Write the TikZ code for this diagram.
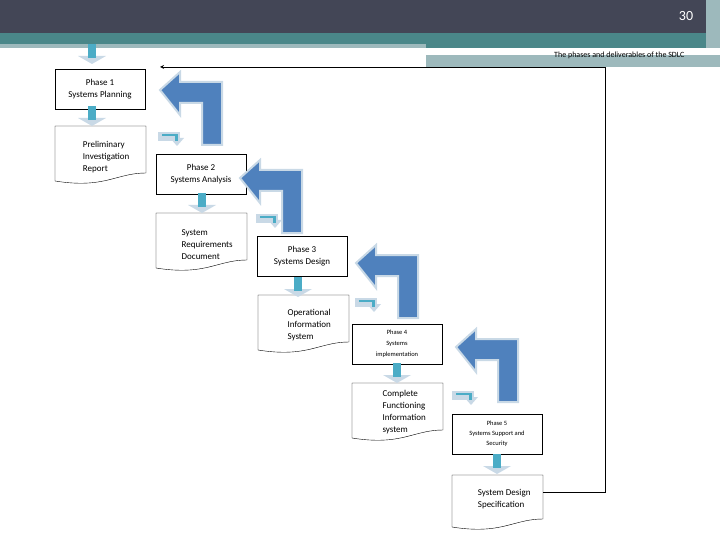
\documentclass[tikz,border=0pt]{standalone}
\usepackage{fontspec}
\setmainfont{Carlito}
\usetikzlibrary{positioning,calc}
\definecolor{hdark}{HTML}{434656}
\definecolor{hteal}{HTML}{4A8789}
\definecolor{hpale}{HTML}{9DB9BC}
\definecolor{bigblue}{HTML}{4F81BD}
\definecolor{smallteal}{HTML}{4BACC6}
\definecolor{glow}{HTML}{C9D9E6}
\tikzstyle{phase} = [draw, minimum width=90pt, minimum height=40pt, align=center, font=\fontsize{9}{12}\selectfont, inner sep=1pt]
\tikzstyle{doc} = [minimum width=90pt, minimum height=52pt, align=left, font=\fontsize{9}{12}\selectfont, anchor=north west, inner sep=0pt]
\newcommand{\bigarrow}[1]{%
  \begin{scope}[shift={(#1)}]
  \fill[bigblue, draw=glow, line width=2pt] (0,0) -- (20,-18) -- (20,-8) -- (62,-8) -- (62,55) -- (42,55) -- (42,13) -- (20,13) -- (20,25) -- cycle;
  \end{scope}}
\newcommand{\smalldown}[1]{%
  \begin{scope}[shift={(#1)}]
  \fill[glow] (-14,8) -- (14,8) -- (0,16) -- cycle;
  \fill[smallteal] (-4,-4) rectangle (4,10);
  \end{scope}}
\newcommand{\bentarrow}[1]{%
  \begin{scope}[shift={(#1)}]
  \fill[glow] (0,0) rectangle (22,9);
  \fill[glow] (12,6) -- (26,6) -- (19,14) -- cycle;
  \fill[smallteal] (4,2) rectangle (20,4);
  \fill[smallteal] (17,2) rectangle (20,9);
  \end{scope}}
\begin{document}
\begin{tikzpicture}[x=1pt,y=-1pt]
  \useasboundingbox (0,0) rectangle (720,540);
  % header
  \fill[hdark] (0,0) rectangle (720,33);
  \fill[hteal] (0,33) rectangle (720,48);
  \fill[hpale] (0,44) rectangle (426,48);
  \fill[hpale] (426,55) rectangle (720,67);
  \fill[white] (426,53) rectangle (666,55);
  \fill[hpale] (706,0) rectangle (720,48);
  \node[text=white, font=\fontsize{14}{14}\selectfont] (pnum) at (686,16) {30};
  \node[anchor=east, font=\fontsize{8}{10}\selectfont] (title) at (688,55) {The phases and deliverables of the SDLC};

  % phases and deliverables
  \node[phase] (p1) at (100,89) {Phase 1\\Systems Planning};
  \node[doc] (d1) at (61,131) {Preliminary\\Investigation\\Report};
  \node[phase] (p2) at (201,174) {Phase 2\\Systems Analysis};
  \node[doc] (d2) at (162,218) {System\\Requirements\\Document};
  \node[phase] (p3) at (302,256) {Phase 3\\Systems Design};
  \node[doc] (d3) at (264,299) {Operational\\Information\\System};
  \node[phase, font=\fontsize{6.5}{11}\selectfont] (p4) at (397,344) {Phase 4\\Systems\\implementation};
  \node[doc] (d4) at (359,386) {Complete\\Functioning\\Information\\system};
  \node[phase, font=\fontsize{6.5}{10}\selectfont] (p5) at (497,434) {Phase 5\\Systems Support and\\Security};
  \node[doc, minimum height=40pt] (d5) at (459,479) {System Design\\Specification};

  % document outlines
  \coordinate (d1nw) at (55,126);
  \coordinate (d2nw) at (156,213);
  \coordinate (d3nw) at (258,295);
  \coordinate (d4nw) at (352,383);
  \coordinate (d5nw) at (452,475);
  \foreach \a in {d1nw,d2nw,d3nw,d4nw}{
    \draw (\a) -- ++(91,0) -- ++(0,47)
      .. controls +(-30,0) and +(50,8) .. ++(-91,8) -- cycle;
  }
  \draw (d5nw) -- ++(91,0) -- ++(0,44)
      .. controls +(-30,0) and +(50,8) .. ++(-91,8) -- cycle;

  % small arrows
  \smalldown{92,48}
  \smalldown{92,110}
  \smalldown{202,197}
  \smalldown{298,281}
  \smalldown{397,367}
  \smalldown{497,458}
  \bentarrow{158,132}
  \bentarrow{256,214}
  \bentarrow{355,298}
  \bentarrow{452,391}

  % big arrows
  \bigarrow{160,90}
  \bigarrow{240,178}
  \bigarrow{356,263}
  \bigarrow{456,347}

  % feedback loop
  \coordinate (out) at (543,492);
  \coordinate (back) at (605,67);
  \coordinate (loop) at (160,67);
  \draw[thick] (out) -| (back);
  \draw[thick,->,>=stealth] (back) -- (loop);
\end{tikzpicture}
\end{document}
